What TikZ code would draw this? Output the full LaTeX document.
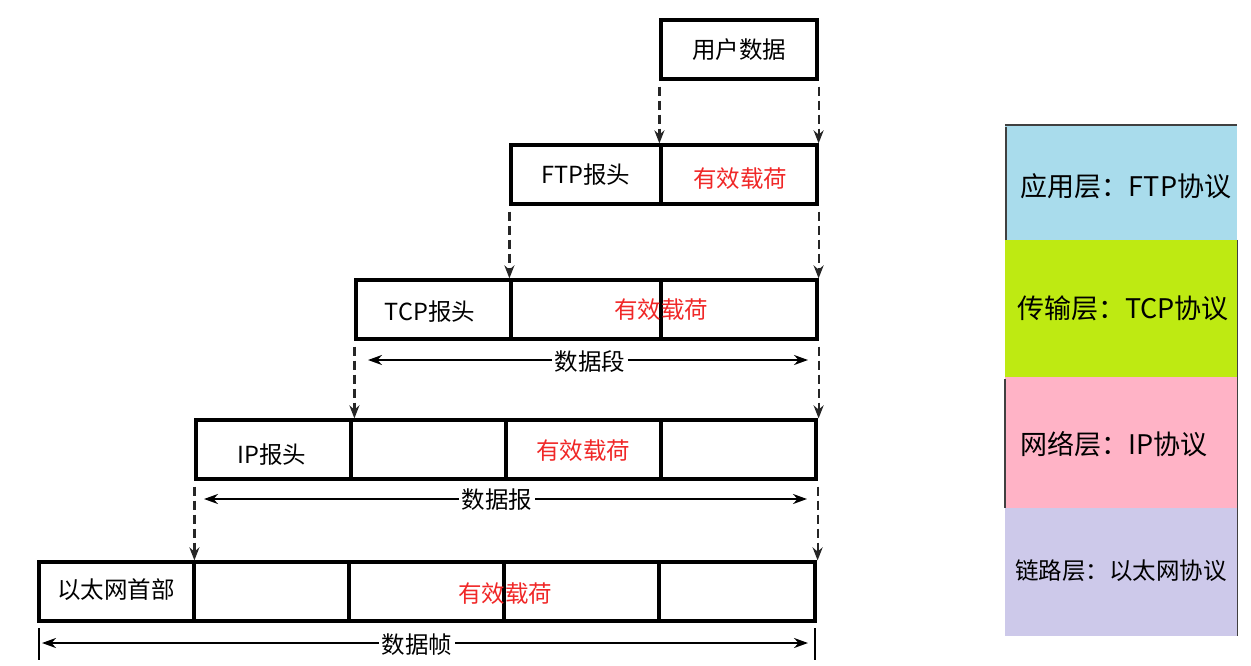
\documentclass[tikz,border=0pt]{standalone}
\usepackage{fontspec}
\setmainfont{Noto Sans CJK SC}
\usetikzlibrary{arrows.meta}
\definecolor{payred}{HTML}{F02828}
\definecolor{lblue}{HTML}{A9DCEC}
\definecolor{lgreen}{HTML}{BEEA12}
\definecolor{lpink}{HTML}{FFB3C6}
\definecolor{llav}{HTML}{CDC9EA}
\tikzset{
  cell/.style={draw=black, line width=3.2pt, minimum height=59pt, inner sep=0pt},
  lbl/.style={font=\fontsize{23.5}{23.5}\selectfont, inner sep=0pt},
  pay/.style={lbl, text=payred},
  drop/.style={draw=black!85, line width=2.2pt, dash pattern=on 9pt off 5pt, -{Stealth[length=13pt,width=10pt]}, shorten <=6pt},
  span/.style={draw=black, line width=2.2pt, {Stealth[length=14pt,width=10pt]}-{Stealth[length=14pt,width=10pt]}},
  spanlbl/.style={lbl, fill=white, inner xsep=3pt, inner ysep=1pt},
  layer/.style={draw=none, minimum width=232pt, inner sep=0pt},
  layertxt/.style={font=\fontsize{27}{27}\selectfont, inner sep=0pt},
  edge/.style={draw=black!75, line width=1.4pt}
}
\begin{document}
\begin{tikzpicture}[x=1pt,y=-1pt]
\useasboundingbox (0,0) rectangle (1251,665);
% row 1
\node[cell, minimum width=156pt] (u) at (739,49.5) {};
\node[lbl] (ut) at (739,50) {用户数据};
% row 2
\node[cell, minimum width=150pt] (f1) at (586,174.5) {};
\node[cell, minimum width=156pt] (f2) at (739,174.5) {};
\node[lbl] (ft) at (586,175) {FTP报头};
\node[pay] (fp) at (740,179) {有效载荷};
% row 3
\node[cell, minimum width=155pt] (t1) at (433.5,309.5) {};
\node[cell, minimum width=150pt] (t2) at (586,309.5) {};
\node[cell, minimum width=156pt] (t3) at (739,309.5) {};
\node[lbl] (tt) at (430,312) {TCP报头};
\node[pay] (tp) at (661,310) {有效载荷};
% row 4
\node[cell, minimum width=155pt] (i1) at (273.5,449.5) {};
\node[cell, minimum width=155pt] (i2) at (428.5,449.5) {};
\node[cell, minimum width=155pt] (i3) at (583.5,449.5) {};
\node[cell, minimum width=155pt] (i4) at (738.5,449.5) {};
\node[lbl] (it) at (272,455) {IP报头};
\node[pay] (ip) at (583,451) {有效载荷};
% row 5
\node[cell, minimum width=155pt] (e1) at (116.5,591.5) {};
\node[cell, minimum width=155pt] (e2) at (271.5,591.5) {};
\node[cell, minimum width=155pt] (e3) at (426.5,591.5) {};
\node[cell, minimum width=155pt] (e4) at (581.5,591.5) {};
\node[cell, minimum width=156pt] (e5) at (737,591.5) {};
\node[lbl] (et) at (116,590) {以太网首部};
\node[pay] (ep) at (505,594) {有效载荷};
% drop arrows
\draw[drop] (u.south west) -- (f2.north west);
\draw[drop] (u.south east) -- (f2.north east);
\draw[drop] (f1.south west) -- (t2.north west);
\draw[drop] (f2.south east) -- (t3.north east);
\draw[drop] (t1.south west) -- (t1.south west |- i1.north);
\draw[drop] (t3.south east) -- (t3.south east |- i4.north);
\draw[drop] (i1.south west) -- (i1.south west |- e1.north);
\draw[drop] (i4.south east) -- (i4.south east |- e5.north);
% span arrows
\coordinate (sa) at (368,360);
\coordinate (sb) at (808,360);
\draw[span] (sa) -- (sb);
\node[spanlbl] (sl) at (590,362) {数据段};
\coordinate (da) at (204,499);
\coordinate (db) at (807,499);
\draw[span] (da) -- (db);
\node[spanlbl] (dl) at (497,500) {数据报};
\coordinate (za) at (42,643);
\coordinate (zb) at (808,643);
\draw[span] (za) -- (zb);
\node[spanlbl] (zl) at (417,645) {数据帧};
\coordinate (zl1) at (39,628);
\coordinate (zl2) at (39,660);
\coordinate (zr1) at (815,628);
\coordinate (zr2) at (815,660);
\draw[line width=2.2pt] (zl1) -- (zl2);
\draw[line width=2.2pt] (zr1) -- (zr2);
% layers
\node[layer, fill=lblue, minimum height=115pt] (l1) at (1121,182.5) {};
\node[layer, fill=lgreen, minimum height=137pt] (l2) at (1121,308.5) {};
\node[layer, fill=lpink, minimum height=131pt] (l3) at (1121,442.5) {};
\node[layer, fill=llav, minimum height=128pt] (l4) at (1121,572) {};
\node[layertxt] (l1t) at (1126,186) {应用层：FTP协议};
\node[layertxt] (l2t) at (1123,308) {传输层：TCP协议};
\node[layertxt] (l3t) at (1114,444) {网络层：IP协议};
\node[layertxt, font=\fontsize{23.5}{23.5}\selectfont] (l4t) at (1121,571) {链路层：以太网协议};
\draw[edge] (l1.north west) -- (l1.north east);
\draw[edge] ([xshift=1pt,yshift=-2pt]l1.north west) -- ([xshift=1pt]l1.south west);
\draw[edge] ([yshift=-2pt]l3.north west) -- (l3.south west);
\draw[edge] (l2.north east) -- (l4.south east);
\end{tikzpicture}
\end{document}
